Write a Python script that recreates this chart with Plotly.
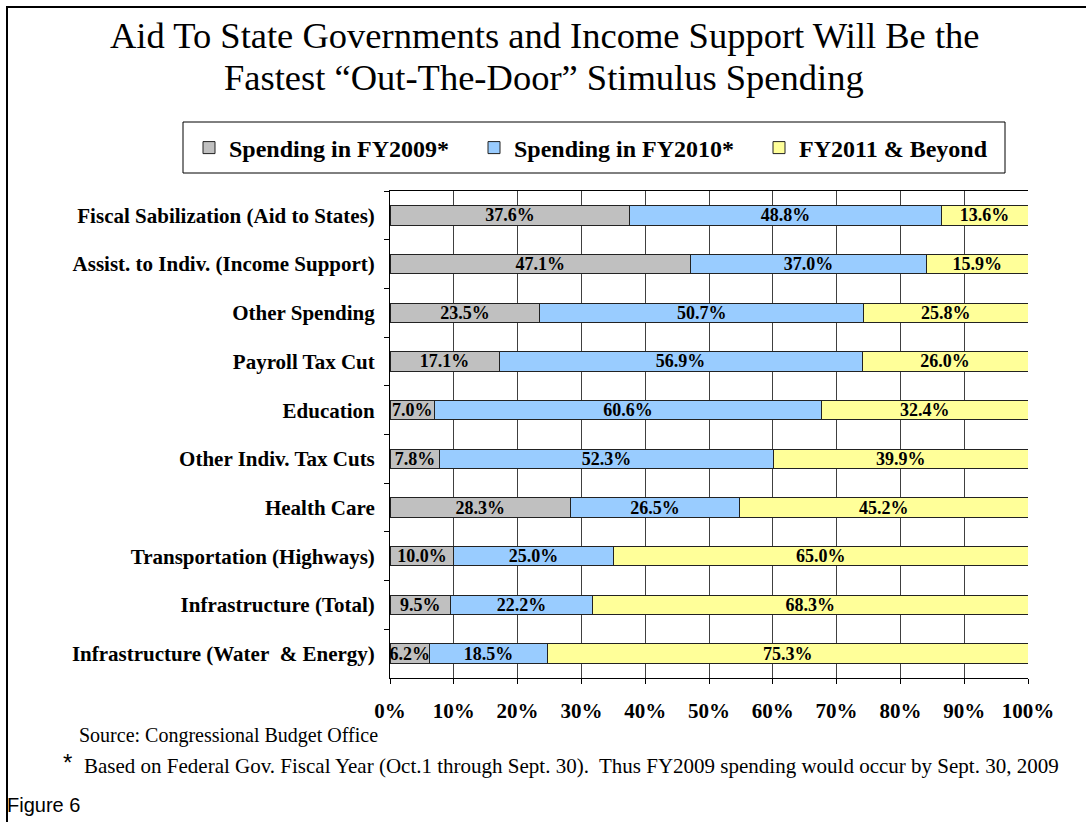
import plotly.graph_objects as go

# Stimulus spending timing by program category (share of total, %)
categories = [
    "Fiscal Sabilization (Aid to States)",
    "Assist. to Indiv. (Income Support)",
    "Other Spending",
    "Payroll Tax Cut",
    "Education",
    "Other Indiv. Tax Cuts",
    "Health Care",
    "Transportation (Highways)",
    "Infrastructure (Total)",
    "Infrastructure (Water\u00a0 & Energy)",
]
fy2009 = [37.6, 47.1, 23.5, 17.1, 7.0, 7.8, 28.3, 10.0, 9.5, 6.2]
fy2010 = [48.8, 37.0, 50.7, 56.9, 60.6, 52.3, 26.5, 25.0, 22.2, 18.5]
fy2011 = [13.6, 15.9, 25.8, 26.0, 32.4, 39.9, 45.2, 65.0, 68.3, 75.3]

series_names = ["Spending in FY2009*", "Spending in FY2010*", "FY2011 & Beyond"]
series_colors = ["#C0C0C0", "#99CCFF", "#FFFF99"]
x_ticks = [0, 10, 20, 30, 40, 50, 60, 70, 80, 90, 100]

W, H = 1086, 822
L, R, T, B = 390, 58, 191, 144
PW, PH = W - L - R, H - T - B


def px_x(x):
    return (x - L) / PW


def px_y(y):
    return (H - B - y) / PH


SERIF = "Liberation Serif, Times New Roman, serif"
SANS = "Liberation Sans, Arial, sans-serif"

fig = go.Figure()
for name, vals, color in zip(series_names, [fy2009, fy2010, fy2011], series_colors):
    fig.add_trace(go.Bar(
        y=categories,
        x=vals,
        name=name,
        orientation="h",
        width=0.4,
        marker=dict(color=color, line=dict(color="#222222", width=1)),
        text=[f"{v:.1f}%" for v in vals],
        textposition="inside",
        insidetextanchor="middle",
        textfont=dict(family=SERIF, size=18, color="black", weight="bold"),
        cliponaxis=False,
    ))

fig.update_layout(
    width=W, height=H, autosize=False,
    margin=dict(l=L, r=R, t=T, b=B, pad=0),
    barmode="stack",
    paper_bgcolor="white", plot_bgcolor="white",
    uniformtext=dict(minsize=18, mode="show"),
    showlegend=True,
    legend=dict(
        orientation="h",
        x=px_x(189), xanchor="left",
        y=px_y(148), yanchor="middle",
        font=dict(family=SERIF, size=24, color="black", weight="bold"),
        entrywidth=240, entrywidthmode="pixels",
        bgcolor="rgba(0,0,0,0)", borderwidth=0,
        traceorder="normal",
    ),
    xaxis=dict(
        range=[0, 100],
        tickvals=x_ticks,
        ticktext=[f"{t}%" for t in x_ticks],
        tickfont=dict(family=SERIF, size=21, color="black", weight="bold"),
        ticks="outside", ticklen=5, tickcolor="black", tickwidth=1,
        ticklabelstandoff=9,
        showgrid=True, gridcolor="#404040", gridwidth=1,
        showline=True, linecolor="black", linewidth=1, mirror=True,
        zeroline=False, fixedrange=True,
    ),
    yaxis=dict(
        type="category",
        categoryorder="array", categoryarray=categories,
        autorange="reversed",
        tickson="boundaries",
        ticks="outside", ticklen=5, tickcolor="black", tickwidth=1,
        ticklabelstandoff=10,
        tickfont=dict(family=SERIF, size=21, color="black", weight="bold"),
        showgrid=False,
        showline=True, linecolor="black", linewidth=1,
        zeroline=False, fixedrange=True,
    ),
)

# Outer frame and legend box
fig.add_shape(type="rect", xref="paper", yref="paper",
              x0=px_x(7), x1=px_x(1100), y0=px_y(840), y1=px_y(7),
              line=dict(color="black", width=2), fillcolor="rgba(0,0,0,0)", layer="below")
fig.add_shape(type="rect", xref="paper", yref="paper",
              x0=px_x(183), x1=px_x(1005), y0=px_y(173), y1=px_y(122),
              line=dict(color="black", width=1), fillcolor="rgba(0,0,0,0)")

title_lines = [
    "Aid To State Governments and Income Support Will Be the",
    "Fastest \u201cOut-The-Door\u201d Stimulus Spending",
]
for line, yy in zip(title_lines, [36, 78]):
    fig.add_annotation(text=line, xref="paper", yref="paper",
                       x=px_x(544), y=px_y(yy), xanchor="center", yanchor="middle",
                       showarrow=False, font=dict(family=SERIF, size=36.5, color="black"))

fig.add_annotation(text="Source: Congressional Budget Office", xref="paper", yref="paper",
                   x=px_x(77), y=px_y(735), xanchor="left", yanchor="middle",
                   showarrow=False, font=dict(family=SERIF, size=20, color="black"))
fig.add_annotation(text="*", xref="paper", yref="paper",
                   x=px_x(61), y=px_y(762), xanchor="left", yanchor="middle",
                   showarrow=False, font=dict(family=SANS, size=24, color="black"))
fig.add_annotation(
    text="Based on Federal Gov. Fiscal Year (Oct.1 through Sept. 30).\u00a0 Thus FY2009 spending would occur by Sept. 30, 2009",
    xref="paper", yref="paper",
    x=px_x(82), y=px_y(766), xanchor="left", yanchor="middle",
    showarrow=False, font=dict(family=SERIF, size=21, color="black"))
fig.add_annotation(text="Figure 6", xref="paper", yref="paper",
                   x=px_x(5), y=px_y(805), xanchor="left", yanchor="middle",
                   showarrow=False, font=dict(family=SANS, size=20, color="black"))

fig.write_html("out.html")
